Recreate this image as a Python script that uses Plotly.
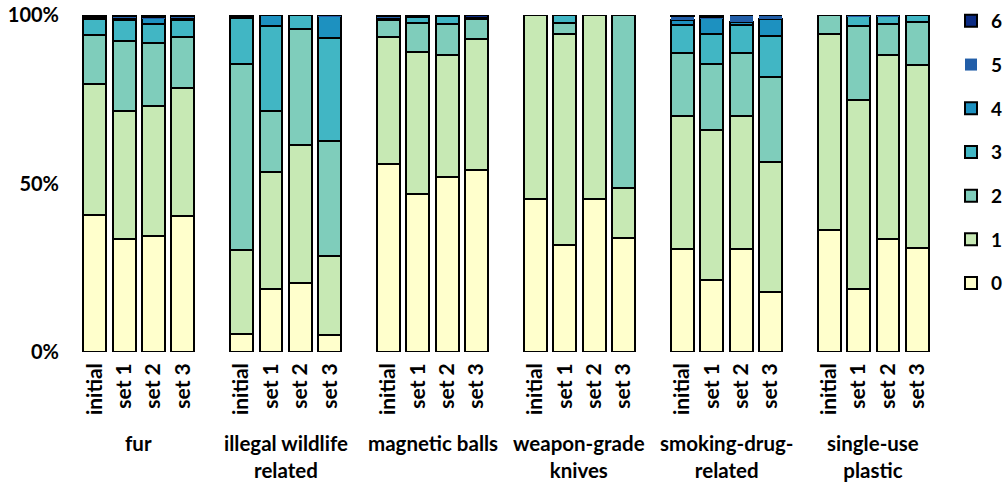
import plotly.graph_objects as go

groups = ["fur", "illegal wildlife<br>related", "magnetic balls", "weapon-grade<br>knives",
          "smoking-drug-<br>related", "single-use<br>plastic"]
sets = ["initial", "set 1", "set 2", "set 3"]
levels = ["0", "1", "2", "3", "4", "5", "6"]
colors = ["#ffffcc", "#c7e9b4", "#7fcdbb", "#41b6c4", "#1d91c0", "#225ea8", "#0c2c84"]

# shares (%) per level, bars ordered group by group: initial, set 1, set 2, set 3
s0 = [40.7, 33.6, 34.3, 40.3,   5.2, 18.8, 20.6, 5.2,   55.8, 47.0, 51.9, 54.0,
      45.5, 31.9, 45.5, 33.9,   30.7, 21.3, 30.7, 17.7,  36.3, 18.6, 33.6, 31.0]
s1 = [38.8, 38.0, 38.7, 38.1,   25.2, 34.5, 40.9, 23.3,  37.8, 42.1, 36.1, 38.8,
      54.5, 62.4, 54.5, 14.7,   39.4, 44.6, 39.4, 38.8,  58.0, 56.3, 54.4, 54.1]
s2 = [14.7, 20.7, 18.6, 15.1,   55.2, 18.3, 34.2, 34.2,  4.8, 8.6, 9.4, 5.9,
      0.0, 3.4, 0.0, 51.4,      18.7, 19.5, 18.7, 25.2,  5.7, 21.8, 9.4, 12.9]
s3 = [4.5, 6.1, 5.8, 5.0,       13.6, 25.1, 4.3, 30.8,   0.6, 1.6, 2.2, 0.3,
      0.0, 2.3, 0.0, 0.0,       8.2, 8.9, 8.2, 12.1,     0.0, 3.0, 2.2, 2.0]
s4 = [0.8, 0.8, 1.6, 0.7,       0.4, 3.3, 0.0, 6.5,      0.4, 0.3, 0.0, 0.0,
      0.0, 0.0, 0.0, 0.0,       1.4, 4.7, 1.0, 4.9,      0.0, 0.0, 0.0, 0.0]
s5 = [0.2, 0.4, 0.5, 0.4,       0.0, 0.0, 0.0, 0.3,      0.2, 0.0, 0.0, 0.0,
      0.0, 0.0, 0.0, 0.0,       1.2, 0.5, 2.0, 1.3,      0.0, 0.3, 0.4, 0.0]
s6 = [0.3, 0.4, 0.5, 0.4,       0.4, 0.0, 0.0, 0.0,      0.4, 0.4, 0.4, 1.0,
      0.0, 0.0, 0.0, 0.0,       0.4, 0.5, 0.0, 0.0,      0.0, 0.0, 0.0, 0.0]
series = [s0, s1, s2, s3, s4, s5, s6]

font_family = "Lato"
slot = 5  # 4 bars + one empty slot between groups
xpos = [g * slot + i for g in range(len(groups)) for i in range(len(sets))]
xlabels = [s for _ in groups for s in sets]

fig = go.Figure()
for k, (lvl, col, vals) in enumerate(zip(levels, colors, series)):
    fig.add_trace(go.Bar(
        x=xpos, y=vals, name=lvl, width=0.78,
        marker=dict(color=col, line=dict(color="#000000", width=0 if lvl == "5" else 2)),
        legendgroup=lvl, legendrank=100 - k,
    ))

for g, name in enumerate(groups):
    fig.add_annotation(x=g * slot + 1.5, xref="x", y=0, yref="paper", yshift=-77,
                       yanchor="top", text=name, showarrow=False,
                       font=dict(family=font_family, size=20.5, color="#000", weight="bold"))

L, R, T, B = 80, 10, 0, 130
plot_w = 1003 - L - R
plot_h = 482 - T - B
fig.update_layout(
    barmode="stack", barnorm="percent",
    width=1003, height=482,
    margin=dict(l=L, r=R, t=T, b=B, autoexpand=False),
    paper_bgcolor="white", plot_bgcolor="white",
    font=dict(family=font_family, size=19, color="#000", weight="bold"),
    legend=dict(traceorder="grouped", xref="container", x=951 / 1003, xanchor="left",
                yref="paper", y=1 - 2 / plot_h, yanchor="top",
                tracegroupgap=16, font=dict(size=19, weight="bold"), itemwidth=30),
    xaxis=dict(domain=[0, 855 / plot_w], automargin=False,
               tickmode="array", tickvals=xpos, ticktext=xlabels, tickangle=-90,
               range=[-0.5, 28.6], showgrid=False, zeroline=False, showline=False,
               ticks="", ticklabelstandoff=6, tickfont=dict(size=21, weight="bold")),
    yaxis=dict(domain=[0, 337 / plot_h], range=[0, 100], tickvals=[0, 50, 100],
               ticktext=["0%", "50%", "100%"],
               automargin=False, ticklabelstandoff=20,
               showgrid=False, zeroline=False, showline=False, ticks="",
               tickfont=dict(size=20, weight="bold")),
    bargap=0,
)

fig.write_html("out.html", config={"displayModeBar": False},
               post_script="document.body.style.margin='0';")
